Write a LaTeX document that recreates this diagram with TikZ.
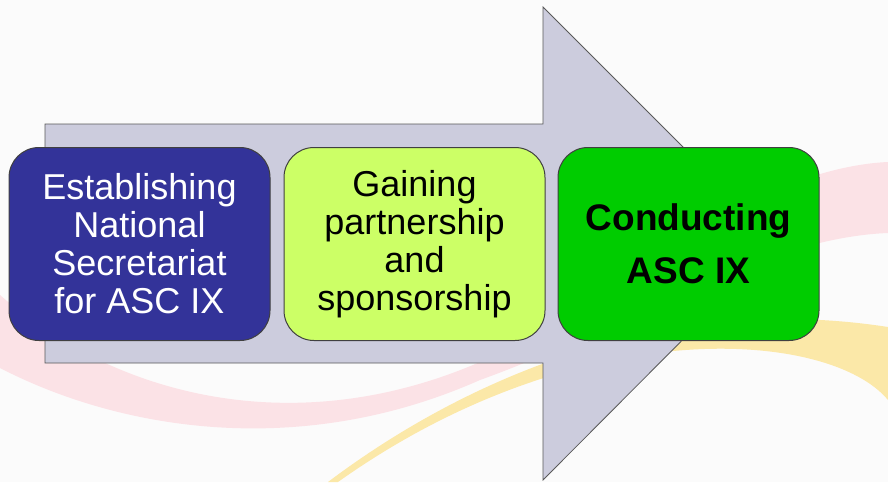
\documentclass[tikz,border=0pt]{standalone}
\usepackage{fontspec}
\setmainfont{Liberation Sans}
\usetikzlibrary{positioning}
\definecolor{arrowgrey}{RGB}{204,204,221}
\definecolor{stepblue}{RGB}{51,51,153}
\definecolor{steplime}{RGB}{204,255,102}
\definecolor{stepgreen}{RGB}{0,204,0}
\definecolor{swooshpink}{RGB}{251,226,230}
\definecolor{swooshyellow}{RGB}{251,232,168}
\tikzstyle{stage} = [draw=black!75, line width=1pt, rounded corners=30pt,
	minimum width=261pt, minimum height=193pt, align=center, inner sep=0pt,
	font=\fontsize{36}{38}\selectfont]
\tikzstyle{bigarrow} = [draw=black!65, line width=0.8pt, fill=arrowgrey]

\begin{document}
\begin{tikzpicture}[x=1pt,y=-1pt]
	\fill[white!98.5!black] (0,0) rectangle (888,482);
	\useasboundingbox (0,0) rectangle (888,482);
	% background swooshes
	\fill[swooshpink] (0,295) .. controls (120,400) and (300,440) .. (480,362)
		.. controls (620,280) and (760,168) .. (888,162)
		-- (888,233) .. controls (760,238) and (620,330) .. (480,380)
		.. controls (300,460) and (120,430) .. (0,368) -- cycle;
	\fill[swooshyellow] (328,482) .. controls (450,390) and (650,290) .. (888,327)
		-- (888,400) .. controls (830,330) and (580,310) .. (338,482) -- cycle;
	% arrow
	\draw[bigarrow] (45,124) -- (543,124) -- (543,7) -- (779,243) -- (543,480)
		-- (543,363) -- (45,363) -- cycle;
	% stages
	\node[stage, fill=stepblue, text=white] (establish) at (139.5,244)
		{Establishing\\National\\Secretariat\\for ASC IX};
	\node[stage, fill=steplime, right=13pt of establish] (gain)
		{Gaining\\partnership\\and\\sponsorship};
	\node[stage, fill=stepgreen, right=12pt of gain,
		font=\bfseries\fontsize{37}{53}\selectfont] (conduct)
		{Conducting\\ASC IX};
\end{tikzpicture}
\end{document}
